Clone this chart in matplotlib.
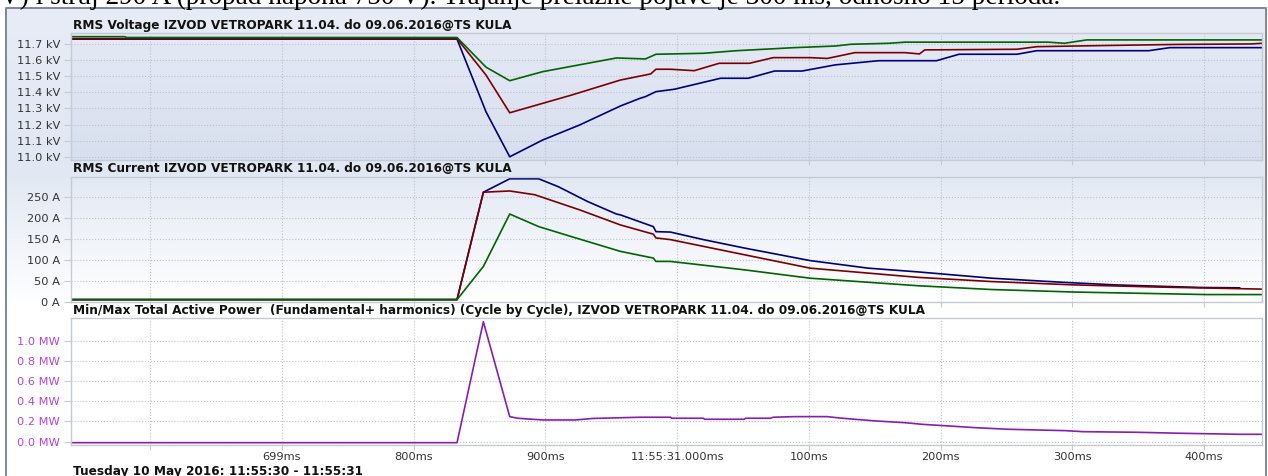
import matplotlib
matplotlib.use('Agg')
import matplotlib.pyplot as plt
import numpy as np
from matplotlib.colors import to_rgb

W, H = 1268, 476

# time in ms after 11:55:30.000
# RMS voltage, kV
t_v_green = [540, 581, 582, 833, 855, 873, 898, 954, 976, 984, 1020, 1045, 1089, 1120, 1132, 1161, 1173, 1282, 1294, 1302, 1311, 1444]
v_green = [11.745, 11.745, 11.740, 11.740, 11.556, 11.472, 11.528, 11.613, 11.607, 11.636, 11.642, 11.658, 11.677, 11.687,
           11.698, 11.704, 11.711, 11.711, 11.704, 11.714, 11.725, 11.725]
t_v_red = [540, 833, 855, 873, 920, 957, 980, 984, 995, 1013, 1032, 1055, 1073, 1101, 1114, 1135, 1173, 1184, 1188, 1258,
           1273, 1323, 1380, 1436, 1444]
v_red = [11.733, 11.733, 11.507, 11.273, 11.383, 11.476, 11.514, 11.543, 11.543, 11.534, 11.580, 11.580, 11.615, 11.615,
         11.610, 11.646, 11.646, 11.638, 11.663, 11.667, 11.683, 11.690, 11.697, 11.700, 11.704]
t_v_blue = [540, 833, 855, 873, 898, 926, 957, 972, 976, 984, 998, 1033, 1054, 1074, 1095, 1120, 1153, 1197, 1214, 1258,
            1273, 1358, 1374, 1444]
v_blue = [11.730, 11.730, 11.279, 11.000, 11.104, 11.197, 11.315, 11.363, 11.373, 11.404, 11.419, 11.487, 11.487, 11.532,
          11.532, 11.570, 11.596, 11.596, 11.636, 11.636, 11.658, 11.658, 11.677, 11.677]

# RMS current, A
t_i_red = [540, 833, 853, 873, 892, 926, 957, 982, 984, 995, 1051, 1101, 1183, 1239, 1302, 1364, 1444]
i_red = [5, 5, 261, 264, 255, 219, 183, 161, 152, 148, 112, 80, 58, 48, 40, 35, 30]
t_i_blue = [540, 833, 853, 873, 895, 910, 932, 954, 957, 982, 984, 995, 1020, 1051, 1101, 1145, 1183, 1239, 1294, 1333,
            1396, 1427]
i_blue = [5, 5, 261, 293, 293, 274, 239, 209, 207, 179, 167, 166, 148, 128, 98, 80, 71, 56, 46, 40, 34, 33]
t_i_green = [540, 833, 853, 873, 895, 920, 957, 982, 984, 995, 1051, 1101, 1183, 1239, 1302, 1402, 1444]
i_green = [5, 5, 84, 209, 179, 155, 120, 104, 96, 96, 76, 56, 38, 29, 23, 17, 17]

# total active power, MW
t_p = [540, 833, 853, 873, 879, 898, 923, 936, 972, 995, 996, 1020, 1021, 1051, 1052, 1071, 1073, 1089, 1114, 1123, 1132,
       1151, 1173, 1186, 1207, 1226, 1251, 1273, 1295, 1308, 1349, 1383, 1427, 1444]
p = [-0.01, -0.01, 1.188, 0.248, 0.232, 0.215, 0.215, 0.23, 0.242, 0.242, 0.232, 0.232, 0.222, 0.222, 0.232, 0.232, 0.242,
     0.248, 0.248, 0.235, 0.225, 0.205, 0.188, 0.172, 0.155, 0.139, 0.123, 0.116, 0.109, 0.099, 0.093, 0.083, 0.073, 0.073]

x_ticks = [600, 700, 800, 900, 1000, 1100, 1200, 1300, 1400]
x_labels = ['', '699ms', '800ms', '900ms', '11:55:31.000ms', '100ms', '200ms', '300ms', '400ms']
v_ticks = [11.0, 11.1, 11.2, 11.3, 11.4, 11.5, 11.6, 11.7]
i_ticks = [0, 50, 100, 150, 200, 250]
p_ticks = [0.0, 0.2, 0.4, 0.6, 0.8, 1.0]

top_text = 'V) i struj 290 A (propad napona 750 V). Trajanje prelazne pojave je 300 ms, odnosno 15 perioda.'
title_v = 'RMS Voltage IZVOD VETROPARK 11.04. do 09.06.2016@TS KULA'
title_i = 'RMS Current IZVOD VETROPARK 11.04. do 09.06.2016@TS KULA'
title_p = 'Min/Max Total Active Power  (Fundamental+ harmonics) (Cycle by Cycle), IZVOD VETROPARK 11.04. do 09.06.2016@TS KULA'
date_text = 'Tuesday 10 May 2016: 11:55:30 - 11:55:31'

GREEN, RED, BLUE, PURPLE = '#006400', '#7a0000', '#00007a', '#8a1cb2'
XLIM = (540, 1444)

plt.rcParams['font.family'] = 'DejaVu Sans'


def grad(ys, stops, cols):
    rgb = np.array([to_rgb(c) for c in cols])
    out = np.stack([np.interp(ys, stops, rgb[:, k]) for k in range(3)], axis=-1)
    return out[:, None, :]


def box(x0, y0, x1, y1):
    return [x0 / W, 1 - y1 / H, (x1 - x0) / W, (y1 - y0) / H]


fig = plt.figure(figsize=(W / 100, H / 100), dpi=100)
fig.patch.set_facecolor('white')

bg = fig.add_axes([0, 0, 1, 1])
bg.set_zorder(-1)
ys = np.arange(8, H + 1)
bg.imshow(grad(ys, [8, 170, 305, H], ['#e7ecf7', '#e1e7f3', '#ffffff', '#ffffff']),
          extent=(6, 1266, H, 8), aspect='auto', interpolation='bilinear')
# plot area backgrounds
pv = (71, 33.3, 1262, 160)
pi = (71, 176.7, 1262, 301.7)
pp = (71, 318.3, 1262, 445)
bg.imshow(grad(np.linspace(0, 1, 50), [0, 1], ['#e4e9f5', '#d8dfee']),
          extent=(pv[0], pv[2], pv[3], pv[1]), aspect='auto', interpolation='bilinear')
bg.imshow(grad(np.linspace(0, 1, 50), [0, 1], ['#e3e9f4', '#ffffff']),
          extent=(pi[0], pi[2], pi[3], pi[1]), aspect='auto', interpolation='bilinear')
bg.plot([6, 6, 1266, 1266], [H + 2, 8, 8, H + 2], color='#7d8894', lw=1.4)
bg.set_xlim(0, W)
bg.set_ylim(H, 0)
bg.axis('off')

# last line of the surrounding document, cut by the top edge as in the source
fig.text(0 / W, 1 - 4 / H, top_text, family='Liberation Serif', fontsize=19.6, va='baseline', ha='left')


def style(ax, ylim, yticks, fmt, labelcolor='#333333'):
    ax.set_facecolor('none')
    ax.set_xlim(*XLIM)
    ax.set_ylim(*ylim)
    ax.set_xticks(x_ticks)
    ax.set_yticks(yticks)
    ax.set_yticklabels([fmt(v) for v in yticks])
    ax.grid(True, linestyle=':', color='#bcc1ca', linewidth=0.8)
    ax.set_axisbelow(True)
    for s in ax.spines.values():
        s.set_color('#c6cad2')
        s.set_linewidth(1.0)
    ax.tick_params(axis='y', length=5, color='#c6cad2', pad=3, labelsize=8.2, labelcolor=labelcolor)
    ax.tick_params(axis='x', length=3.5, color='#c6cad2', pad=1.5, labelsize=8.2, labelcolor='#333333')


axv = fig.add_axes(box(*pv))
style(axv, (10.98, 11.766), v_ticks, lambda v: f'{v:.1f} kV')
axv.plot(t_v_blue, v_blue, color=BLUE, lw=1.2)
axv.plot(t_v_red, v_red, color=RED, lw=1.2)
axv.plot(t_v_green, v_green, color=GREEN, lw=1.2)
axv.set_xticklabels([])

axi = fig.add_axes(box(*pi))
style(axi, (0, 298), i_ticks, lambda v: f'{v} A')
axi.plot(t_i_blue, i_blue, color=BLUE, lw=1.2)
axi.plot(t_i_red, i_red, color=RED, lw=1.2)
axi.plot(t_i_green, i_green, color=GREEN, lw=1.2)
axi.set_xticklabels([])

axp = fig.add_axes(box(*pp))
style(axp, (-0.033, 1.222), p_ticks, lambda v: f'{v:.1f} MW', labelcolor='#b445d4')
axp.plot(t_p, p, color=PURPLE, lw=1.2)
axp.set_xticklabels(x_labels)

for y, txt in [(26, title_v), (168.3, title_i), (310.7, title_p), (471.5, date_text)]:
    fig.text(73 / W, 1 - y / H, txt, fontsize=8.7, fontweight='bold', va='center', ha='left', color='#111111')

fig.savefig('out.png', dpi=100)
